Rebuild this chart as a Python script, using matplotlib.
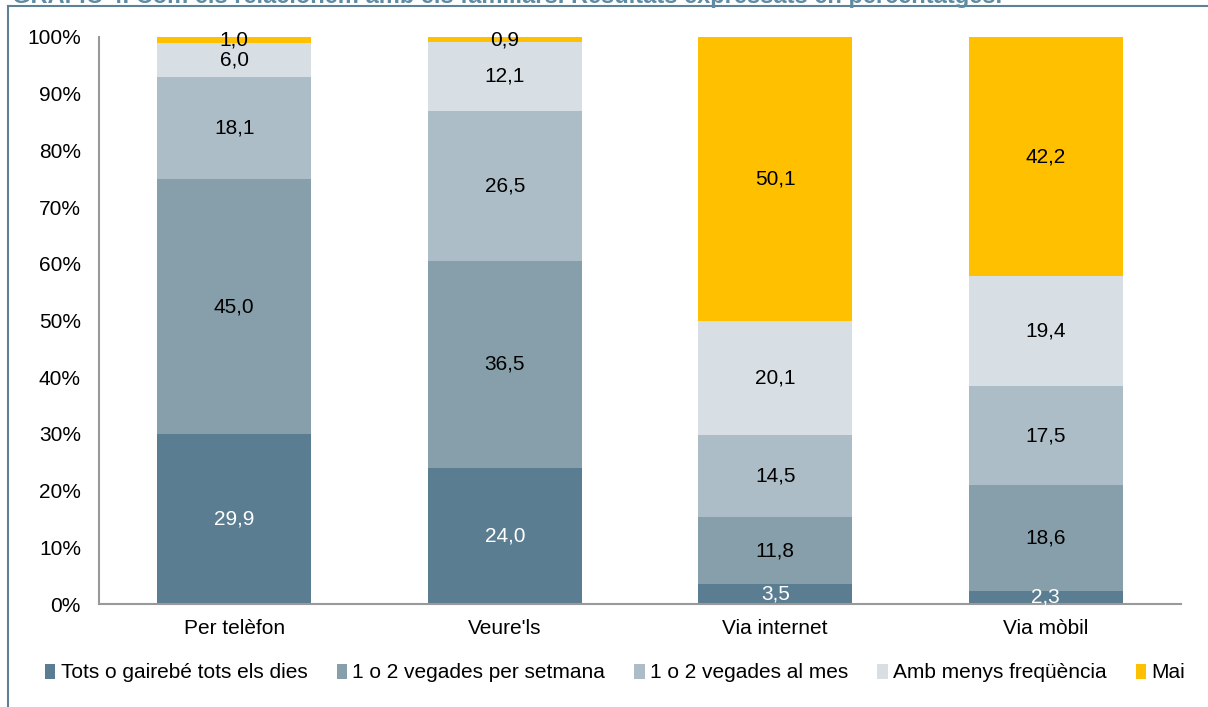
import matplotlib
matplotlib.use("Agg")
import matplotlib.pyplot as plt
from matplotlib.lines import Line2D
from matplotlib.patches import Patch

plt.rcParams['font.family'] = ['Liberation Sans', 'DejaVu Sans']

categories = ["Per telèfon", "Veure'ls", "Via internet", "Via mòbil"]
series_names = ["Tots o gairebé tots els dies", "1 o 2 vegades per setmana",
                "1 o 2 vegades al mes", "Amb menys freqüència", "Mai"]
tots_dies = [29.9, 24.0, 3.5, 2.3]
setmana = [45.0, 36.5, 11.8, 18.6]
mes = [18.1, 26.5, 14.5, 17.5]
menys = [6.0, 12.1, 20.1, 19.4]
mai = [1.0, 0.9, 50.1, 42.2]
series = [tots_dies, setmana, mes, menys, mai]
colors = ["#5b7d91", "#879faa", "#adbdc7", "#d7dfe4", "#ffc000"]
label_colors = ["white", "black", "black", "black", "black"]
yticks = [0, 10, 20, 30, 40, 50, 60, 70, 80, 90, 100]

FS = 15
W, H = 1208, 707
fig = plt.figure(figsize=(W / 100, H / 100), dpi=100)
ax = fig.add_axes([99 / W, 1 - 604 / H, (1181 - 99) / W, (604 - 37) / H])

x = list(range(len(categories)))
bottom = [0.0] * len(categories)
for vals, c, lc in zip(series, colors, label_colors):
    ax.bar(x, vals, width=0.57, bottom=bottom, color=c, edgecolor='none')
    for xi, b, v in zip(x, bottom, vals):
        ax.text(xi, b + v / 2, f"{v:.1f}".replace('.', ','), ha='center', va='center',
                fontsize=FS, color=lc)
    bottom = [b + v for b, v in zip(bottom, vals)]

ax.set_xlim(-0.5, 3.5)
ax.set_ylim(0, 100)
ax.set_yticks(yticks)
ax.set_yticklabels([f"{t}%" for t in yticks], fontsize=FS)
ax.set_xticks(x)
ax.set_xticklabels(categories, fontsize=FS)
ax.tick_params(axis='both', length=0)
ax.tick_params(axis='y', pad=13)
ax.tick_params(axis='x', pad=11)
for s in ['top', 'right']:
    ax.spines[s].set_visible(False)
for s in ['left', 'bottom']:
    ax.spines[s].set_color('#999999')
    ax.spines[s].set_linewidth(1.5)

handles = [Patch(facecolor=c, edgecolor='none') for c in colors]
fig.legend(handles, series_names, loc='center', bbox_to_anchor=(615 / W, 1 - 673 / H),
           ncol=5, frameon=False, fontsize=FS, handlelength=0.5, handleheight=0.7,
           handletextpad=0.25, columnspacing=1.4)

# frame lines
fig.add_artist(Line2D([8 / W, 8 / W], [0, 1 - 6 / H], transform=fig.transFigure,
                      color='#5f8196', lw=1.5))
fig.add_artist(Line2D([8 / W, 1], [1 - 6 / H, 1 - 6 / H], transform=fig.transFigure,
                      color='#5f8196', lw=1.5))
fig.text(12 / W, 1 - 3 / H,
         "GRÀFIC 4. Com els relacionem amb els familiars. Resultats expressats en percentatges.",
         fontsize=17, fontweight='bold', color='#5f8ca3', ha='left', va='baseline')

fig.savefig("out.png", dpi=100)
